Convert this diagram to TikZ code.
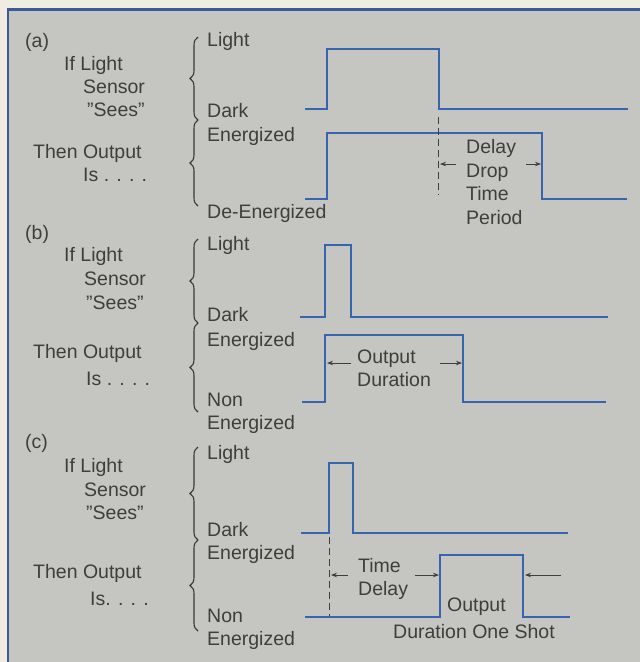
\documentclass[tikz,border=0pt]{standalone}
\usepackage{fontspec}
\setmainfont{Liberation Sans}
\usetikzlibrary{arrows.meta,decorations.pathreplacing}
\definecolor{bgc}{RGB}{197,197,193}
\definecolor{cream}{RGB}{240,236,226}
\definecolor{framec}{RGB}{60,90,150}
\definecolor{wavec}{RGB}{55,100,175}
\definecolor{txt}{RGB}{62,62,62}
\tikzset{
  lbl/.style={anchor=west,inner sep=0pt,text height=14pt,text depth=0pt,
    font=\fontsize{19.5}{23}\selectfont,text=txt},
  wave/.style={draw=wavec,line width=1.8pt,line join=miter},
  brc/.style={draw=txt!90!black,line width=1.1pt,decorate,
    decoration={brace,amplitude=8pt}},
  dsh/.style={draw=txt,line width=0.9pt,dash pattern=on 7pt off 4pt},
  arr/.style={draw=txt,line width=0.8pt,-{Stealth[length=6pt,width=4.5pt]}},
}
\begin{document}
\begin{tikzpicture}[x=1pt,y=-1pt]
\useasboundingbox (0,0) rectangle (640,662);
\fill[cream] (0,0) rectangle (640,662);
\fill[bgc] (8,9) rectangle (640,662);
\draw[framec,line width=2.2pt] (7,9.5) -- (640,9.5);
\draw[framec,line width=1.8pt] (8,9.5) -- (8,662);

% ---------------- (a)
\node[lbl] (a-tag) at (25,40) {(a)};
\node[lbl] (a-if) at (64,63) {If Light};
\node[lbl] (a-sen) at (83,86) {Sensor};
\node[lbl] (a-sees) at (87,109) {''Sees''};
\node[lbl] (a-then) at (33,151) {Then Output};
\node[lbl] (a-is) at (83,174) {Is . . . .};
\draw[brc] (198,120) -- (198,37);
\draw[brc] (198,206) -- (198,120);
\node[lbl] (a-light) at (207,39) {Light};
\node[lbl] (a-dark) at (207,110) {Dark};
\node[lbl] (a-ener) at (207,134) {Energized};
\node[lbl] (a-deen) at (207,211) {De-Energized};
\draw[wave] (305,109) -- (327,109) -- (327,49) -- (439,49) -- (439,109) -- (628,109);
\draw[wave] (305,199) -- (327,199) -- (327,133) -- (542,133) -- (542,199) -- (627,199);
\coordinate (a-d1) at (438,117);
\coordinate (a-d2) at (438,195);
\draw[dsh] (a-d1) -- (a-d2);
\node[lbl] (a-delay) at (466,146) {Delay};
\node[lbl] (a-drop) at (466,170) {Drop};
\node[lbl] (a-time) at (466,193) {Time};
\node[lbl] (a-per) at (466,217) {Period};
\coordinate (a-l1) at (456,164);
\coordinate (a-l2) at (440,164);
\coordinate (a-r1) at (526,164);
\coordinate (a-r2) at (541,164);
\draw[arr] (a-l1) -- (a-l2);
\draw[arr] (a-r1) -- (a-r2);

% ---------------- (b)
\node[lbl] (b-tag) at (25,232) {(b)};
\node[lbl] (b-if) at (64,254) {If Light};
\node[lbl] (b-sen) at (84,278) {Sensor};
\node[lbl] (b-sees) at (86,302) {''Sees''};
\node[lbl] (b-then) at (33,351) {Then Output};
\node[lbl] (b-is) at (86,378) {Is . . . .};
\draw[brc] (198,323) -- (198,239);
\draw[brc] (198,412) -- (198,323);
\node[lbl] (b-light) at (207,243) {Light};
\node[lbl] (b-dark) at (207,314) {Dark};
\node[lbl] (b-ener) at (207,339) {Energized};
\node[lbl] (b-non) at (207,399) {Non};
\node[lbl] (b-ener2) at (207,422) {Energized};
\draw[wave] (300,317) -- (325,317) -- (325,245) -- (351,245) -- (351,317) -- (608,317);
\draw[wave] (302,402) -- (325,402) -- (325,335) -- (463,335) -- (463,402) -- (606,402);
\node[lbl] (b-out) at (357,356) {Output};
\node[lbl] (b-dur) at (357,379) {Duration};
\coordinate (b-l1) at (351,363);
\coordinate (b-l2) at (327,363);
\coordinate (b-r1) at (440,363);
\coordinate (b-r2) at (462,363);
\draw[arr] (b-l1) -- (b-l2);
\draw[arr] (b-r1) -- (b-r2);

% ---------------- (c)
\node[lbl] (c-tag) at (25,441) {(c)};
\node[lbl] (c-if) at (64,465) {If Light};
\node[lbl] (c-sen) at (84,489) {Sensor};
\node[lbl] (c-sees) at (86,512) {''Sees''};
\node[lbl] (c-then) at (33,571) {Then Output};
\node[lbl] (c-is) at (90,598) {Is. . . .};
\draw[brc] (198,540) -- (198,447);
\draw[brc] (198,631) -- (198,540);
\node[lbl] (c-light) at (207,452) {Light};
\node[lbl] (c-dark) at (207,529) {Dark};
\node[lbl] (c-ener) at (207,552) {Energized};
\node[lbl] (c-non) at (207,615) {Non};
\node[lbl] (c-ener2) at (207,638) {Energized};
\draw[wave] (301,533) -- (329,533) -- (329,463) -- (353,463) -- (353,533) -- (568,533);
\draw[wave] (305,617) -- (440,617) -- (440,555) -- (523,555) -- (523,617) -- (570,617);
\coordinate (c-d1) at (329,537);
\coordinate (c-d2) at (329,616);
\draw[dsh] (c-d1) -- (c-d2);
\node[lbl] (c-time) at (358,565) {Time};
\node[lbl] (c-delay) at (358,588) {Delay};
\node[lbl] (c-out) at (447,604) {Output};
\node[lbl] (c-dur) at (393,631) {Duration One Shot};
\coordinate (c-l1) at (348,575);
\coordinate (c-l2) at (331,575);
\coordinate (c-m1) at (415,575);
\coordinate (c-m2) at (439,575);
\coordinate (c-r1) at (561,575);
\coordinate (c-r2) at (525,575);
\draw[arr] (c-l1) -- (c-l2);
\draw[arr] (c-m1) -- (c-m2);
\draw[arr] (c-r1) -- (c-r2);
\end{tikzpicture}
\end{document}
